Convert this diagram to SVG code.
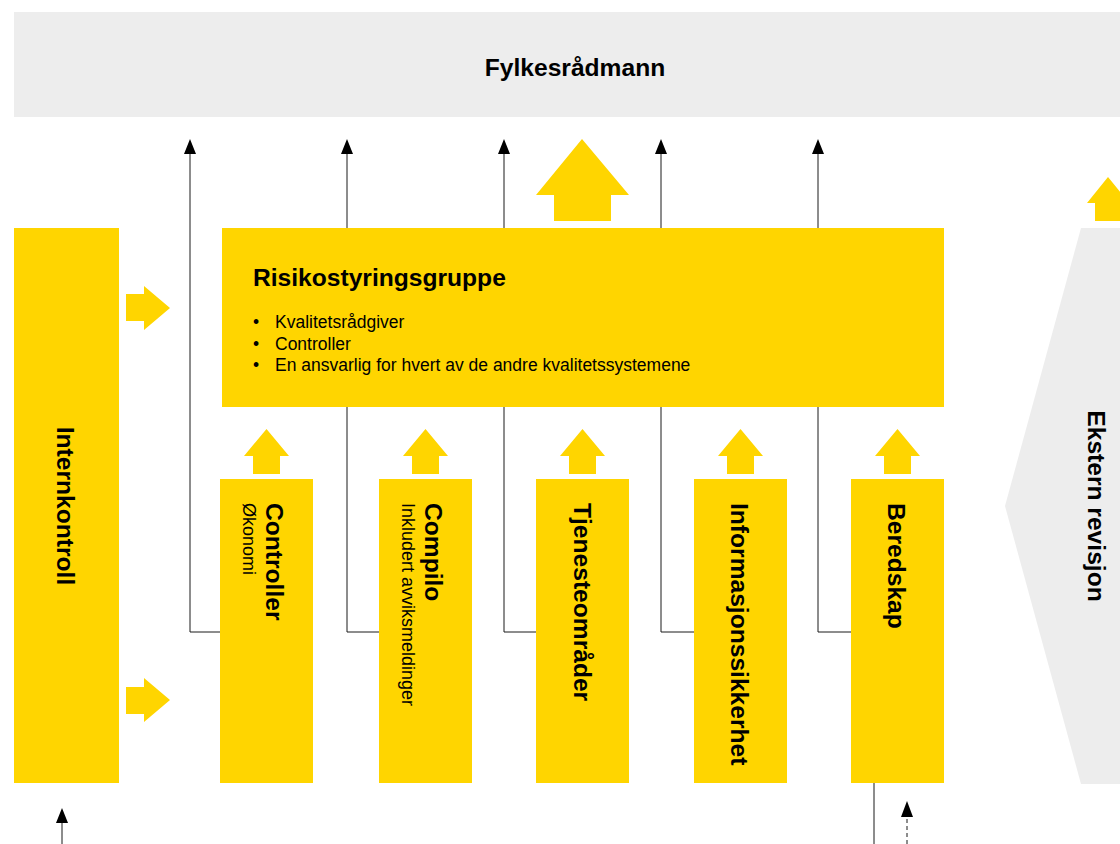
<svg xmlns="http://www.w3.org/2000/svg" width="1120" height="844" viewBox="0 0 1120 844">
<defs>
<style>
.y{fill:#FFD500}
.g{fill:#EDEDED}
.b{font-family:"Liberation Sans",Arial,sans-serif;font-weight:bold;font-size:24.6px;fill:#000}
.r{font-family:"Liberation Sans",Arial,sans-serif;font-size:17.5px;fill:#000}
.s{font-family:"Liberation Sans",Arial,sans-serif;font-size:18px;fill:#000}
.ln{fill:none;stroke:#1a1a1a;stroke-width:1}
</style>
<marker id="ah" viewBox="0 0 12 15" refX="6" refY="0" markerWidth="12" markerHeight="15" markerUnits="userSpaceOnUse" orient="auto-start-reverse">
<path d="M0,15 L6,0 L12,15 Z" fill="#000"/>
</marker>
</defs>
<rect width="1120" height="844" fill="#fff"/>
<g id="connectors">
<path class="ln" d="M190,632 H220 M190,632 V154"/>
<path class="ln" d="M347,632 H379 M347,632 V154"/>
<path class="ln" d="M504,632 H536 M504,632 V154"/>
<path class="ln" d="M661,632 H694 M661,632 V154"/>
<path class="ln" d="M818,632 H851 M818,632 V154"/>
<path d="M184,154 L190,139 L196,154 Z M341,154 L347,139 L353,154 Z M498,154 L504,139 L510,154 Z M655,154 L661,139 L667,154 Z M812,154 L818,139 L824,154 Z" fill="#000"/>
<path class="ln" d="M874,783 V844"/>
<path class="ln" d="M62,844 V823"/>
<path d="M56,823 L62,808 L68,823 Z" fill="#000"/>
<path class="ln" d="M907,844 V816" stroke-dasharray="4,3"/>
<path d="M901,817 L907,801 L913,817 Z" fill="#000"/>
<g id="block-arrows" class="y">
<path d="M536,195 L582,139 L629,195 H611 V221 H554 V195 Z"/>
<path d="M1087,203 L1108,177 L1129,203 H1121 V221 H1095 V203 Z"/>
<path d="M126,294 H144 V286 L170,308 L144,330 V321 H126 Z"/>
<path d="M126,687 H144 V678 L170,700 L144,722 V714 H126 Z"/>
<path d="M244,456 L266.5,429 L289,456 H280 V474 H253 V456 Z"/>
<path d="M403,456 L425.5,429 L448,456 H439 V474 H412 V456 Z"/>
<path d="M560,456 L582.5,429 L605,456 H596 V474 H569 V456 Z"/>
<path d="M718,456 L740.5,429 L763,456 H754 V474 H727 V456 Z"/>
<path d="M875,456 L897.5,429 L920,456 H911 V474 H884 V456 Z"/>
</g>
</g>
<g id="fylkesradmann">
<rect class="g" x="14" y="12" width="1106" height="105"/>
<text class="b" x="575" y="76" text-anchor="middle">Fylkesrådmann</text>
</g>
<g id="internkontroll">
<rect class="y" x="14" y="228" width="105" height="555"/>
<text class="b" transform="translate(57,506) rotate(90)" text-anchor="middle">Internkontroll</text>
</g>
<g id="risikostyringsgruppe">
<rect class="y" x="222" y="228" width="722" height="179"/>
<text class="b" x="253" y="286">Risikostyringsgruppe</text>
<text class="r" x="253" y="328">•</text>
<text class="r" x="275" y="328">Kvalitetsrådgiver</text>
<text class="r" x="253" y="349.5">•</text>
<text class="r" x="275" y="349.5">Controller</text>
<text class="r" x="253" y="371">•</text>
<text class="r" x="275" y="371">En ansvarlig for hvert av de andre kvalitetssystemene</text>
</g>
<g id="controller">
<rect class="y" x="220" y="479" width="93" height="304"/>
<text class="b" transform="translate(266,503) rotate(90)">Controller</text>
<text class="s" transform="translate(243,503) rotate(90)">Økonomi</text>
</g>
<g id="compilo">
<rect class="y" x="379" y="479" width="93" height="304"/>
<text class="b" transform="translate(425,503) rotate(90)">Compilo</text>
<text class="s" transform="translate(402,503) rotate(90)">Inkludert avviksmeldinger</text>
</g>
<g id="tjenesteomrader">
<rect class="y" x="536" y="479" width="93" height="304"/>
<text class="b" transform="translate(573.5,503) rotate(90)">Tjenesteområder</text>
</g>
<g id="informasjonssikkerhet">
<rect class="y" x="694" y="479" width="93" height="304"/>
<text class="b" transform="translate(731,503) rotate(90)">Informasjonssikkerhet</text>
</g>
<g id="beredskap">
<rect class="y" x="851" y="479" width="93" height="304"/>
<text class="b" transform="translate(888,503) rotate(90)">Beredskap</text>
</g>
<g id="ekstern-revisjon">
<path class="g" d="M1081,228 H1120 V784 H1081 L1005,506 Z"/>
<text class="b" transform="translate(1088,506) rotate(90)" text-anchor="middle">Ekstern revisjon</text>
</g>
</svg>
